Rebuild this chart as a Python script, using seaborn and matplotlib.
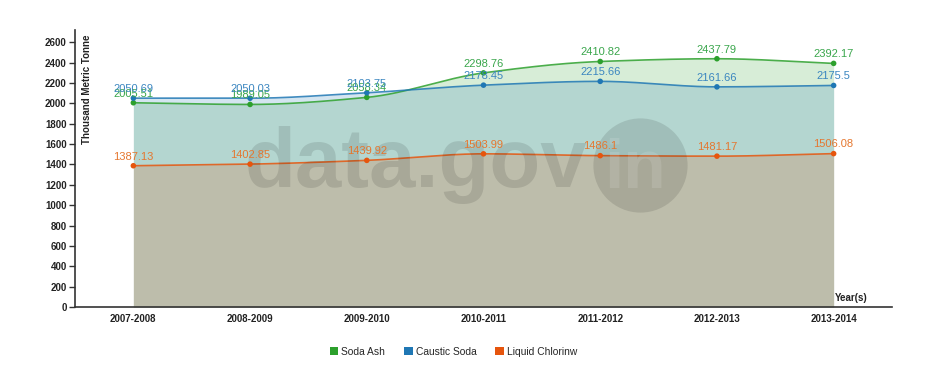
import numpy as np
import pandas as pd
import matplotlib
matplotlib.use('Agg')
import matplotlib.pyplot as plt
import seaborn as sns
from matplotlib.patches import Patch

years = ['2007-2008', '2008-2009', '2009-2010', '2010-2011', '2011-2012', '2012-2013', '2013-2014']
soda_ash = [2005.51, 1989.05, 2058.34, 2298.76, 2410.82, 2437.79, 2392.17]
caustic_soda = [2050.69, 2050.03, 2103.75, 2178.45, 2215.66, 2161.66, 2175.5]
liquid_chlorine = [1387.13, 1402.85, 1439.92, 1503.99, 1486.1, 1481.17, 1506.08]
series_names = ['Soda Ash', 'Caustic Soda', 'Liquid Chlorinw']
y_ticks = list(range(0, 2601, 200))

colors = ['#2ca02c', '#1f77b4', '#e6550d']
label_colors = ['#3aa64c', '#3b86c0', '#e5772f']


def monotone(x, y, n=60):
    # monotone cubic curve through the points (like d3 "monotone")
    x = np.asarray(x, float)
    y = np.asarray(y, float)
    h = np.diff(x)
    d = np.diff(y) / h
    m = np.zeros_like(y)
    m[0], m[-1] = d[0], d[-1]
    for k in range(1, len(y) - 1):
        if d[k - 1] * d[k] <= 0:
            m[k] = 0
        else:
            w1 = 2 * h[k] + h[k - 1]
            w2 = h[k] + 2 * h[k - 1]
            m[k] = (w1 + w2) / (w1 / d[k - 1] + w2 / d[k])
    xs, ys = [], []
    for k in range(len(h)):
        t = np.linspace(0, 1, n)
        h00 = 2 * t**3 - 3 * t**2 + 1
        h10 = t**3 - 2 * t**2 + t
        h01 = -2 * t**3 + 3 * t**2
        h11 = t**3 - t**2
        xs.append(x[k] + t * h[k])
        ys.append(h00 * y[k] + h10 * h[k] * m[k] + h01 * y[k + 1] + h11 * h[k] * m[k + 1])
    return np.concatenate(xs), np.concatenate(ys)


df = pd.DataFrame({
    'year': years * 3,
    'pos': list(range(len(years))) * 3,
    'value': soda_ash + caustic_soda + liquid_chlorine,
    'series': [s for s in series_names for _ in years],
})

sns.set_style('white')
plt.rcParams['font.family'] = ['Liberation Sans', 'DejaVu Sans']

fig = plt.figure(figsize=(9.26, 3.78), dpi=100)
ax = fig.add_axes([75 / 926, 1 - 307 / 378, (892 - 75) / 926, (307 - 30) / 378])

for name, col in zip(series_names, colors):
    sub = df[df['series'] == name]
    xs, ys = monotone(sub['pos'], sub['value'])
    ax.fill_between(xs, 0, ys, color=col, alpha=0.19, lw=0)
    ax.plot(xs, ys, color=col, lw=1.2, alpha=0.85)

sns.scatterplot(data=df, x='pos', y='value', hue='series', palette=colors,
                s=16, edgecolor='none', legend=False, ax=ax, zorder=5)

for name, lc in zip(series_names, label_colors):
    sub = df[df['series'] == name]
    for p, v in zip(sub['pos'], sub['value']):
        ax.annotate(f'{v:g}', (p, v), xytext=(0, 3), textcoords='offset points',
                    ha='center', va='bottom', fontsize=8, color=lc, zorder=6)

# watermark
ax.text(2.42, 1178, 'data.gov', fontsize=60, fontweight='bold', color='black',
        alpha=0.11, ha='center', va='baseline', zorder=2)
ax.scatter([4.34], [1393], s=4600, color='black', alpha=0.11, lw=0, zorder=2)
ax.text(4.30, 1168, 'in', fontsize=50, fontweight='bold', color='white',
        alpha=0.12, ha='center', va='baseline', zorder=2)

ax.set_xlim(-0.5, 6.5)
ax.set_ylim(0, 2720)
ax.set_yticks(y_ticks)
ax.set_yticklabels([str(t) for t in y_ticks], fontsize=7, fontweight='bold', color='#222222')
ax.set_xticks(range(len(years)))
ax.set_xticklabels(years, fontsize=7, fontweight='bold', color='#222222')
ax.set_xticks(np.arange(-0.5, 7, 1), minor=True)
ax.tick_params(axis='x', which='major', length=0, pad=5)
ax.tick_params(axis='x', which='minor', length=4, width=1, color='#333333', direction='out')
ax.tick_params(axis='y', length=4, width=1, color='#333333', direction='out', pad=2)
ax.tick_params(left=True, bottom=True)

for s in ['top', 'right']:
    ax.spines[s].set_visible(False)
for s in ['left', 'bottom']:
    ax.spines[s].set_color('#333333')
    ax.spines[s].set_linewidth(1.2)

ax.set_xlabel('')
ax.set_ylabel('')
ax.text(0.008, 0.985, 'Thousand Metric Tonne', transform=ax.transAxes, rotation=90,
        ha='left', va='top', fontsize=7, fontweight='bold', color='#222222')
ax.text(0.97, 0.015, 'Year(s)', transform=ax.transAxes, ha='right', va='bottom',
        fontsize=7, fontweight='bold', color='#222222')

handles = [Patch(facecolor=c, edgecolor='none', label=n) for n, c in zip(series_names, colors)]
fig.legend(handles=handles, loc='center', bbox_to_anchor=(453.5 / 926, 1 - 352 / 378), ncol=3,
           frameon=False, fontsize=7.4, handlelength=0.8, handleheight=0.8,
           handletextpad=0.3, columnspacing=1.85)

fig.savefig('out.png', dpi=100)
